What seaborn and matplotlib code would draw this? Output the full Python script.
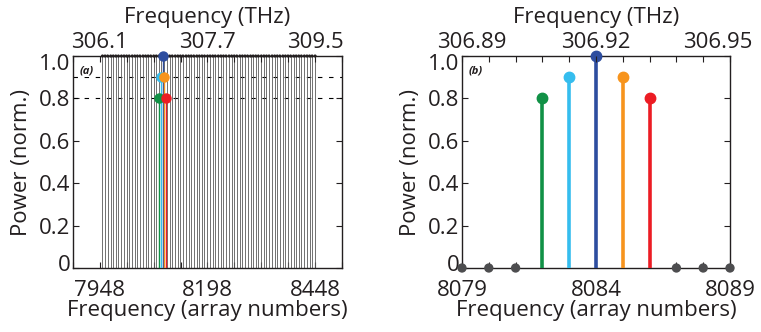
import numpy as np
import pandas as pd
import matplotlib
matplotlib.use("Agg")
import matplotlib.pyplot as plt
import matplotlib.transforms as mtransforms
import seaborn as sns

# ---- data ----
# comb lines across the full array (array numbers), all at unit power
comb_pos = [7954, 7960, 7966, 7973, 7979, 7985, 7991, 7998, 8004, 8010,
            8016, 8023, 8029, 8035, 8041, 8048, 8054, 8060, 8066, 8073,
            8079, 8085, 8091, 8098, 8104, 8110, 8116, 8123, 8129, 8135,
            8141, 8148, 8154, 8160, 8166, 8173, 8179, 8185, 8191, 8198,
            8204, 8210, 8216, 8223, 8229, 8235, 8241, 8248, 8254, 8260,
            8266, 8273, 8279, 8285, 8291, 8298, 8304, 8310, 8316, 8323,
            8329, 8335, 8341, 8348, 8354, 8360, 8366, 8373, 8379, 8385,
            8391, 8398, 8404, 8410, 8416, 8423, 8429, 8435, 8441, 8448]
comb_pow = [1.0] * len(comb_pos)

# five selected channels (positions on the full-array axis, and powers)
chan_pos_a = [8086, 8090, 8094, 8098, 8102]
chan_pow = [0.8, 0.9, 1.0, 0.9, 0.8]
chan_col = ["#119146", "#35bdee", "#2d4d9f", "#f7941d", "#ec1c24"]

# zoomed view: array numbers and powers
zoom_pos = [8079, 8080, 8081, 8082, 8083, 8084, 8085, 8086, 8087, 8088, 8089]
zoom_pow = [0, 0, 0, 0.8, 0.9, 1.0, 0.9, 0.8, 0, 0, 0]

# tick definitions
a_ticks = [7885.5, 7948, 8010.5, 8073, 8135.5, 8198, 8260.5, 8323, 8385.5, 8448, 8510.5]
a_bottom_labels = ["", "7948", "", "", "", "8198", "", "", "", "8448", ""]
a_top_labels = ["", "306.1", "", "", "", "307.7", "", "", "", "309.5", ""]
b_ticks = [8079, 8080, 8081, 8082, 8083, 8084, 8085, 8086, 8087, 8088, 8089]
b_bottom_labels = ["8079", "", "", "", "", "8084", "", "", "", "", "8089"]
b_top_labels = ["306.89", "", "", "", "", "306.92", "", "", "", "", "306.95"]
y_ticks = [0, 0.2, 0.4, 0.6, 0.8, 1.0]
y_labels = ["0", "0.2", "0.4", "0.6", "0.8", "1.0"]

sns.set_style("ticks")
plt.rcParams["font.family"] = ["Open Sans", "DejaVu Sans"]
FS = 16
TXT = "#231f20"

fig = plt.figure(figsize=(7.61, 3.32), dpi=100)
W, H = 761, 332
ax_a = fig.add_axes([73 / W, 1 - 268 / H, (342 - 73) / W, (268 - 56) / H])
ax_b = fig.add_axes([462 / W, 1 - 268 / H, (730 - 462) / W, (268 - 56) / H])


def nudge(lbl, dx, dy):
    lbl.set_transform(lbl.get_transform() +
                      mtransforms.ScaledTranslation(dx / 72, dy / 72,
                                                    fig.dpi_scale_trans))


def style_axes(ax, ticks, bottom_labels, top_labels, xlim):
    ax.set_xlim(*xlim)
    ax.set_ylim(0, 1.0)
    ax.set_xticks(ticks)
    ax.set_xticklabels(bottom_labels)
    ax.set_yticks(y_ticks)
    ax.set_yticklabels(y_labels)
    ax.tick_params(direction="in", length=4, width=0.8, colors=TXT,
                   labelsize=FS, top=False, right=True)
    ax.tick_params(axis="x", pad=9)
    ax.tick_params(axis="y", pad=2)
    for s in ax.spines.values():
        s.set_color(TXT)
        s.set_linewidth(1.0)
    ax.set_xlabel("Frequency (array numbers)", fontsize=FS, color=TXT, labelpad=-1)
    ax.set_ylabel("Power (norm.)", fontsize=FS, color=TXT, labelpad=5)
    # end labels of the y axis are kept inside the frame
    ylbls = ax.get_yticklabels()
    nudge(ylbls[0], 0, 3.5)
    nudge(ylbls[-1], 0, -4.5)
    top = ax.twiny()
    top.set_xlim(*xlim)
    top.set_xticks(ticks)
    top.set_xticklabels(top_labels)
    top.tick_params(direction="in", length=4, width=0.8, colors=TXT,
                    labelsize=FS, pad=2)
    for s in top.spines.values():
        s.set_visible(False)
    top.set_xlabel("Frequency (THz)", fontsize=FS, color=TXT, labelpad=7)
    return top


# ---- panel (a): full comb ----
style_axes(ax_a, a_ticks, a_bottom_labels, a_top_labels, (7885.5, 8510.5))
for yv in (0.9, 0.8):
    ax_a.axhline(yv, color="black", lw=0.8, ls=(0, (4, 6)), zorder=1)
ax_a.vlines(comb_pos, 0, comb_pow, color="#5a5a5a", lw=0.6, zorder=2)
comb_df = pd.DataFrame({"x": comb_pos, "y": comb_pow})
sns.scatterplot(data=comb_df, x="x", y="y", ax=ax_a, color="#231f20", s=5,
                edgecolor="none", zorder=3, clip_on=False, legend=False)
for p, v, c in zip(chan_pos_a, chan_pow, chan_col):
    ax_a.vlines(p, 0, v, color=c, lw=1.0, zorder=4)
order = [1, 3, 0, 4, 2]
for i in order:
    ax_a.plot(chan_pos_a[i], chan_pow[i], "o", color=chan_col[i], ms=6.5,
              zorder=5, clip_on=False)
ax_a.text(0.025, 0.955, "(a)", transform=ax_a.transAxes, fontsize=8,
          fontweight="bold", fontstyle="italic", va="top", ha="left",
          color=TXT, zorder=6,
          bbox=dict(facecolor="white", edgecolor="none", pad=0.5))

# ---- panel (b): selected channels ----
top_b = style_axes(ax_b, b_ticks, b_bottom_labels, b_top_labels, (8079, 8089))
zoom_df = pd.DataFrame({"x": zoom_pos, "y": zoom_pow})
off = zoom_df[zoom_df["y"] == 0]
sns.scatterplot(data=off, x="x", y="y", ax=ax_b, color="#4d4d4f", s=45,
                edgecolor="none", zorder=5, clip_on=False, legend=False)
on = zoom_df[zoom_df["y"] > 0].reset_index(drop=True)
for k, row in on.iterrows():
    ax_b.vlines(row["x"], 0, row["y"], color=chan_col[k], lw=2.6, zorder=3)
    ax_b.plot(row["x"], row["y"], "o", color=chan_col[k], ms=7.5, zorder=4,
              clip_on=False)
ax_b.text(0.025, 0.955, "(b)", transform=ax_b.transAxes, fontsize=8,
          fontweight="bold", fontstyle="italic", va="top", ha="left", color=TXT)

# nudge the outer top labels of panel (b) inward
top_lbls = top_b.get_xticklabels()
nudge(top_lbls[0], 7, 0)
nudge(top_lbls[-1], -9, 0)

fig.savefig("out.png", dpi=100)
